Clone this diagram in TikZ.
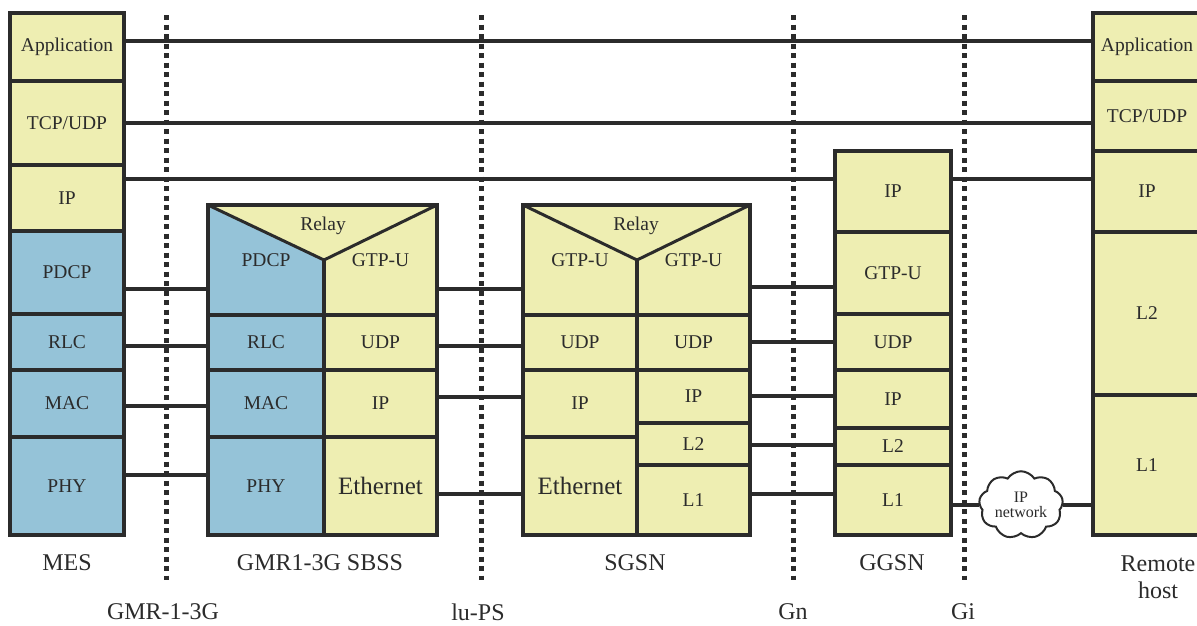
\documentclass[tikz,border=0pt]{standalone}
\usepackage{fontspec}
\setmainfont{Liberation Serif}
\usetikzlibrary{shapes.symbols}
\definecolor{cellyel}{HTML}{EEEEB2}
\definecolor{cellblue}{HTML}{95C3D8}
\definecolor{ink}{HTML}{2B2B2B}
\tikzset{
  cell/.style={draw=ink, line width=4pt, fill=cellyel, text=ink, inner sep=0pt, outer sep=0pt,
    font=\fontsize{19.5}{22}\selectfont},
  air/.style={cell, fill=cellblue},
  size/.style 2 args={minimum width=#1pt, minimum height=#2pt},
  wire/.style={draw=ink, line width=3.5pt},
  iface/.style={draw=ink, line width=5pt, dash pattern=on 5pt off 4.5pt},
  caption/.style={text=ink, font=\fontsize{24}{27}\selectfont},
}
\begin{document}
\begin{tikzpicture}[x=1pt, y=-1pt]
    \useasboundingbox (0,0) rectangle (1197,625);

    % MES
    \node[cell, size={114}{68}] (mesApp) at (67,47) {Application};
    \node[cell, size={114}{84}] (mesTcp) at (67,123) {TCP/UDP};
    \node[cell, size={114}{66}] (mesIP) at (67,198) {IP};
    \node[air, size={114}{83}] (mesPDCP) at (67,272.5) {PDCP};
    \node[air, size={114}{56}] (mesRLC) at (67,342) {RLC};
    \node[air, size={114}{67}] (mesMAC) at (67,403.5) {MAC};
    \node[air, size={114}{98}] (mesPHY) at (67,486) {PHY};

    % GMR1-3G SBSS
    \node[air, size={116}{110}] (sbssPDCP) at (266,260) {PDCP};
    \node[cell, size={113}{110}] (sbssGTP) at (380.5,260) {GTP-U};
    \node[air, size={116}{55}] (sbssRLC) at (266,342.5) {RLC};
    \node[cell, size={113}{55}] (sbssUDP) at (380.5,342.5) {UDP};
    \node[air, size={116}{67}] (sbssMAC) at (266,403.5) {MAC};
    \node[cell, size={113}{67}] (sbssIP) at (380.5,403.5) {IP};
    \node[air, size={116}{98}] (sbssPHY) at (266,486) {PHY};
    \node[cell, size={113}{98}, font=\fontsize{25}{28}\selectfont] (sbssEth) at (380.5,486) {Ethernet};

    % SGSN
    \node[cell, size={114}{110}] (sgsnGTPa) at (580,260) {GTP-U};
    \node[cell, size={113}{110}] (sgsnGTPb) at (693.5,260) {GTP-U};
    \node[cell, size={114}{55}] (sgsnUDPa) at (580,342.5) {UDP};
    \node[cell, size={113}{55}] (sgsnUDPb) at (693.5,342.5) {UDP};
    \node[cell, size={114}{67}] (sgsnIPa) at (580,403.5) {IP};
    \node[cell, size={114}{98}, font=\fontsize{25}{28}\selectfont] (sgsnEth) at (580,486) {Ethernet};
    \node[cell, size={113}{53}] (sgsnIPb) at (693.5,396.5) {IP};
    \node[cell, size={113}{42}] (sgsnL2) at (693.5,444) {L2};
    \node[cell, size={113}{70}] (sgsnL1) at (693.5,500) {L1};

    % GGSN
    \node[cell, size={116}{81}] (ggsnIPa) at (893,191.5) {IP};
    \node[cell, size={116}{82}] (ggsnGTP) at (893,273) {GTP-U};
    \node[cell, size={116}{56}] (ggsnUDP) at (893,342) {UDP};
    \node[cell, size={116}{58}] (ggsnIPb) at (893,399) {IP};
    \node[cell, size={116}{37}] (ggsnL2) at (893,446.5) {L2};
    \node[cell, size={116}{70}] (ggsnL1) at (893,500) {L1};

    % Remote host
    \node[cell, size={108}{68}] (remApp) at (1147,47) {Application};
    \node[cell, size={108}{70}] (remTcp) at (1147,116) {TCP/UDP};
    \node[cell, size={108}{81}] (remIP) at (1147,191.5) {IP};
    \node[cell, size={108}{163}] (remL2) at (1147,313.5) {L2};
    \node[cell, size={108}{140}] (remL1) at (1147,465) {L1};

    % Relay tops
    \foreach \l/\r in {sbssPDCP/sbssGTP, sgsnGTPa/sgsnGTPb} {
        \fill[cellyel] (\l.north west) -- (\l.east) -- (\r.north east) -- cycle;
        \draw[ink, line width=3pt, line join=round] (\l.north west) -- (\l.east) -- (\r.north east);
        \draw[ink, line width=4pt] (\l.north west) -- (\r.north east);
    }
    \node[text=ink, font=\fontsize{19.5}{22}\selectfont] (sbssRelay) at (323,226) {Relay};
    \node[text=ink, font=\fontsize{19.5}{22}\selectfont] (sgsnRelay) at (636,226) {Relay};

    % IP network
    \node[cloud, draw=ink, line width=2pt, fill=white, cloud puffs=9, cloud puff arc=115,
          aspect=1.3, minimum width=84pt, minimum height=62pt, inner sep=0pt, align=center,
          text=ink, font=\fontsize{16}{15}\selectfont] (ipnet) at (1021,505) {IP\\network};

    % Edges
    \draw[wire] (mesApp.east |- 0,41) -- (remApp.west |- 0,41);
    \draw[wire] (mesTcp.east |- 0,123) -- (remTcp.west |- 0,123);
    \draw[wire] (mesIP.east |- 0,179) -- (ggsnIPa.west |- 0,179);
    \draw[wire] (ggsnIPa.east |- 0,179) -- (remIP.west |- 0,179);
    \draw[wire] (mesPDCP.east |- 0,289) -- (sbssPDCP.west |- 0,289);
    \draw[wire] (mesRLC.east |- 0,346) -- (sbssRLC.west |- 0,346);
    \draw[wire] (mesMAC.east |- 0,406) -- (sbssMAC.west |- 0,406);
    \draw[wire] (mesPHY.east |- 0,475) -- (sbssPHY.west |- 0,475);
    \draw[wire] (sbssGTP.east |- 0,289) -- (sgsnGTPa.west |- 0,289);
    \draw[wire] (sbssUDP.east |- 0,346) -- (sgsnUDPa.west |- 0,346);
    \draw[wire] (sbssIP.east |- 0,397) -- (sgsnIPa.west |- 0,397);
    \draw[wire] (sbssEth.east |- 0,494) -- (sgsnEth.west |- 0,494);
    \draw[wire] (sgsnGTPb.east |- 0,287) -- (ggsnGTP.west |- 0,287);
    \draw[wire] (sgsnUDPb.east |- 0,342) -- (ggsnUDP.west |- 0,342);
    \draw[wire] (sgsnIPb.east |- 0,396) -- (ggsnIPb.west |- 0,396);
    \draw[wire] (sgsnL2.east |- 0,445) -- (ggsnL2.west |- 0,445);
    \draw[wire] (sgsnL1.east |- 0,494) -- (ggsnL1.west |- 0,494);
    \draw[wire] (ggsnL1.east |- ipnet.west) -- (ipnet.west);
    \draw[wire] (ipnet.east) -- (remL1.west |- ipnet.east);

    % Interfaces
    \foreach \x in {166,481,793,964}
        \draw[iface] (\x,15) -- (\x,580);

    % Captions
    \node[caption] (mesLbl) at (67,563) {MES};
    \node[caption] (sbssLbl) at (320,563) {GMR1-3G SBSS};
    \node[caption] (sgsnLbl) at (635,563) {SGSN};
    \node[caption] (ggsnLbl) at (892,563) {GGSN};
    \node[caption, align=center] (remLbl) at (1158,577) {Remote\\host};
    \node[caption] (umLbl) at (163,612) {GMR-1-3G};
    \node[caption] (iuLbl) at (478,612) {lu-PS};
    \node[caption] (gnLbl) at (793,612) {Gn};
    \node[caption] (giLbl) at (963,612) {Gi};
\end{tikzpicture}
\end{document}
